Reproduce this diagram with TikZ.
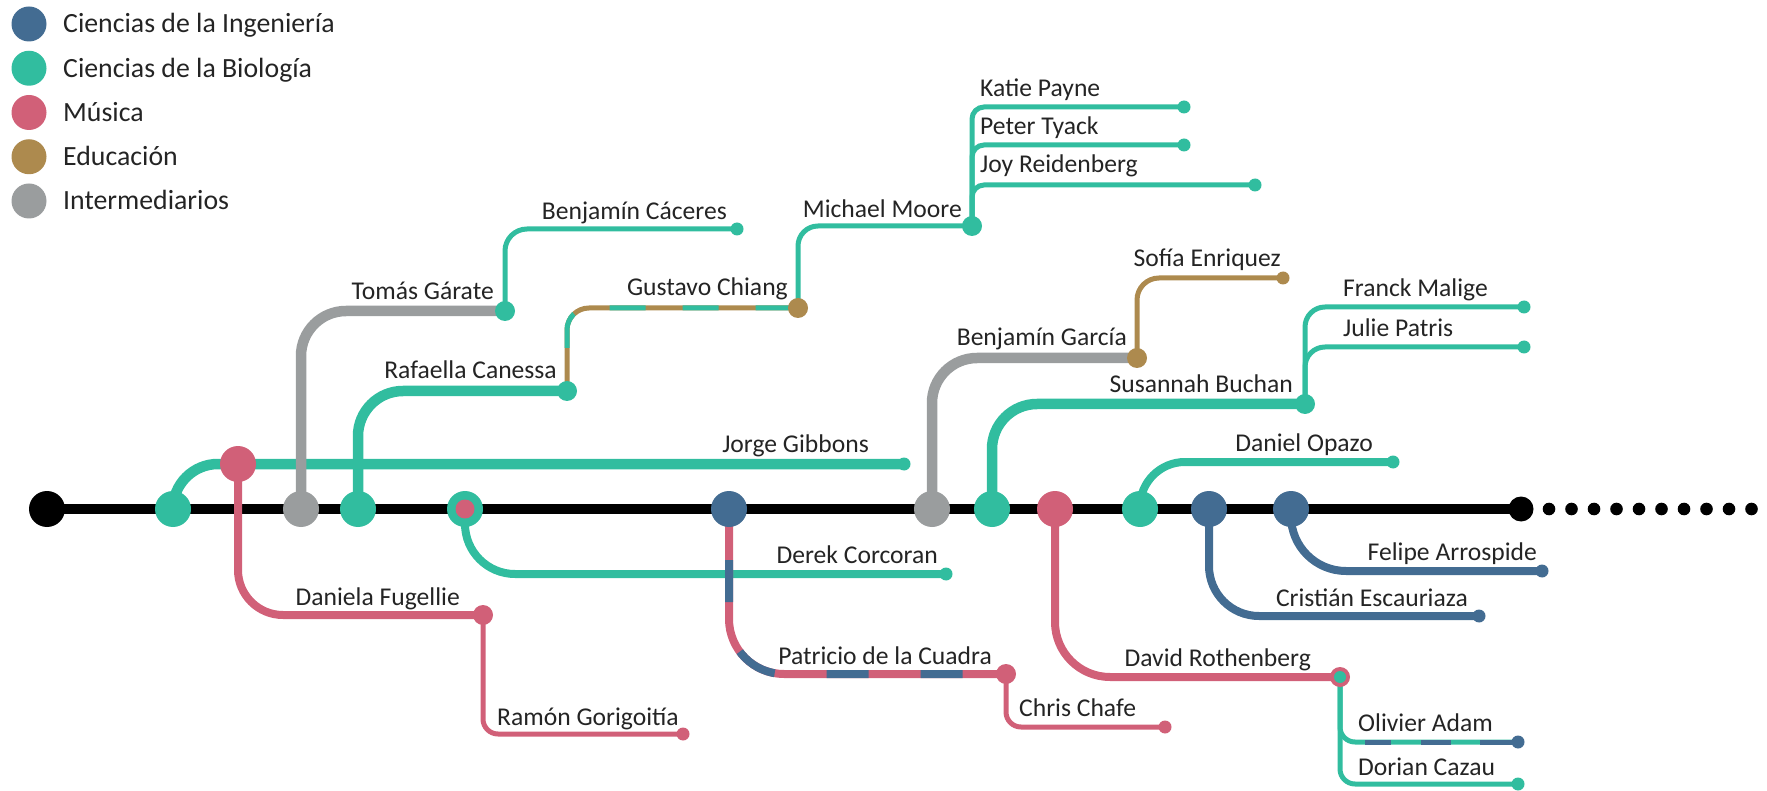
\documentclass[tikz,border=0pt]{standalone}
\usepackage{fontspec}
\setmainfont{Carlito}
\usepackage{tikz}
\usetikzlibrary{positioning}

\definecolor{ingBlue}{HTML}{436C92}
\definecolor{bioTeal}{HTML}{31BD9F}
\definecolor{musPink}{HTML}{D16078}
\definecolor{eduGold}{HTML}{AD8A4E}
\definecolor{midGrey}{HTML}{9A9D9E}
\definecolor{ink}{HTML}{242424}

\pgfdeclarelayer{lines}
\pgfsetlayers{lines,main}

\tikzset{
  station/.style={circle, inner sep=0pt, minimum size=36pt},
  hub/.style={circle, inner sep=0pt, minimum size=20pt},
  enddot/.style={circle, inner sep=0pt, minimum size=13pt},
  trunk/.style={line width=10.5pt},
  branch/.style={line width=8pt},
  twig/.style={line width=5pt},
  lbl/.style={font=\fontsize{25.6}{30}\selectfont, text=ink, inner sep=0pt},
  keytext/.style={font=\fontsize{27.8}{33}\selectfont, text=ink, inner sep=0pt, anchor=base west}
}

\begin{document}
\begin{tikzpicture}[x=1pt,y=-1pt]
\useasboundingbox (0,0) rectangle (1767,791);

% legend
\foreach \c/\t [count=\i] in {ingBlue/Ciencias de la Ingeniería, bioTeal/Ciencias de la Biología, musPink/Música, eduGold/Educación, midGrey/Intermediarios} {
  \node[station, minimum size=35pt, fill=\c] (key\i) at (29,{24+44.25*(\i-1)}) {};
  \node[keytext] (keylbl\i) at (63,{33+44.25*(\i-1)}) {\t};
}

% main line stations
\node[station, fill=black] (start) at (47,509) {};
\node[station, minimum size=25pt, fill=black] (stop) at (1521,509) {};
\node[station, fill=bioTeal] (s1) at (173,509) {};
\node[station, fill=midGrey] (s2) at (301,509) {};
\node[station, fill=bioTeal] (s3) at (358,509) {};
\node[station, fill=bioTeal] (s4) at (465,509) {};
\node[circle, inner sep=0pt, minimum size=19pt, fill=musPink] (s4in) at (s4) {};
\node[station, fill=ingBlue] (s5) at (729,509) {};
\node[station, fill=midGrey] (s6) at (932,509) {};
\node[station, fill=bioTeal] (s7) at (992,509) {};
\node[station, fill=musPink] (s8) at (1055,509) {};
\node[station, fill=bioTeal] (s9) at (1140,509) {};
\node[station, fill=ingBlue] (s10) at (1209,509) {};
\node[station, fill=ingBlue] (s11) at (1291,509) {};
\node[station, fill=musPink] (s1m) at (238,464) {};

% hubs
\node[hub, fill=bioTeal] (garate) at (505,311) {};
\node[hub, fill=bioTeal] (canessa) at (567,391) {};
\node[hub, fill=eduGold] (chiang) at (798,308) {};
\node[hub, fill=bioTeal] (moore) at (972,226) {};
\node[hub, fill=eduGold] (garcia) at (1137,358) {};
\node[hub, fill=bioTeal] (buchan) at (1305,404) {};
\node[hub, fill=musPink] (fugellie) at (483,615) {};
\node[hub, fill=musPink] (cuadra) at (1006,674) {};
\node[hub, fill=musPink] (rothenberg) at (1340,677) {};
\node[circle, inner sep=0pt, minimum size=12pt, fill=bioTeal] (rothenbergIn) at (rothenberg) {};

% end points
\node[enddot, fill=bioTeal] (gibbons) at (904,464) {};
\node[enddot, fill=bioTeal] (caceres) at (737,229) {};
\node[enddot, fill=bioTeal] (payne) at (1184,107) {};
\node[enddot, fill=bioTeal] (tyack) at (1184,145) {};
\node[enddot, fill=bioTeal] (reidenberg) at (1255,185) {};
\node[enddot, fill=eduGold] (enriquez) at (1283,278) {};
\node[enddot, fill=bioTeal] (malige) at (1524,307) {};
\node[enddot, fill=bioTeal] (patris) at (1524,347) {};
\node[enddot, fill=bioTeal] (opazo) at (1393,462) {};
\node[enddot, fill=bioTeal] (corcoran) at (946,574) {};
\node[enddot, fill=musPink] (gorigoitia) at (683,734) {};
\node[enddot, fill=musPink] (chafe) at (1165,727) {};
\node[enddot, fill=ingBlue] (adam) at (1518,742) {};
\node[enddot, fill=bioTeal] (cazau) at (1518,784) {};
\node[enddot, fill=ingBlue] (escauriaza) at (1479,616) {};
\node[enddot, fill=ingBlue] (arrospide) at (1542,571) {};

\begin{pgfonlayer}{lines}
\draw[trunk, draw=black] (start.center) -- (stop.center);
\foreach \k in {0,...,9}
  \fill (1549+22.5*\k,509) circle (6.3pt);

\draw[trunk, draw=bioTeal, rounded corners=45pt] (s1.center) |- (gibbons.center);
\draw[trunk, draw=midGrey, rounded corners=45pt] (s2.center) |- (garate.center);
\draw[twig, draw=bioTeal, rounded corners=22pt] (garate.center) |- (caceres.center);
\draw[trunk, draw=bioTeal, rounded corners=45pt] (s3.center) |- (canessa.center);
\draw[twig, draw=eduGold, rounded corners=22pt] (canessa.center) |- (chiang.center);
\draw[twig, draw=bioTeal, rounded corners=22pt, dash pattern=on 36pt off 37pt, dash phase=30pt] (canessa.center) |- (chiang.center);
\draw[twig, draw=bioTeal, rounded corners=20pt] (chiang.center) |- (moore.center);
\draw[twig, draw=bioTeal, rounded corners=12pt] (moore.center) |- (payne.center);
\draw[twig, draw=bioTeal, rounded corners=12pt] (moore.center) |- (tyack.center);
\draw[twig, draw=bioTeal, rounded corners=12pt] (moore.center) |- (reidenberg.center);

\draw[trunk, draw=midGrey, rounded corners=45pt] (s6.center) |- (garcia.center);
\draw[twig, draw=eduGold, rounded corners=22pt] (garcia.center) |- (enriquez.center);
\draw[trunk, draw=bioTeal, rounded corners=45pt] (s7.center) |- (buchan.center);
\draw[twig, draw=bioTeal, rounded corners=20pt] (buchan.center) |- (malige.center);
\draw[twig, draw=bioTeal, rounded corners=20pt] (buchan.center) |- (patris.center);
\draw[branch, draw=bioTeal, rounded corners=45pt] (s9.center) |- (opazo.center);

\draw[branch, draw=musPink, rounded corners=45pt] (s1m.center) |- (fugellie.center);
\draw[twig, draw=musPink, rounded corners=15pt] (fugellie.center) |- (gorigoitia.center);
\draw[branch, draw=bioTeal, rounded corners=50pt] (s4.center) |- (corcoran.center);
\draw[branch, draw=musPink, rounded corners=55pt] (s5.center) |- (cuadra.center);
\draw[branch, draw=ingBlue, rounded corners=55pt, dash pattern=on 42pt off 52pt, dash phase=43pt] (s5.center) |- (cuadra.center);
\draw[twig, draw=musPink, rounded corners=15pt] (cuadra.center) |- (chafe.center);
\draw[branch, draw=musPink, rounded corners=55pt] (s8.center) |- (rothenberg.center);
\draw[twig, draw=bioTeal, rounded corners=15pt] (rothenberg.center) |- (adam.center);
\draw[twig, draw=ingBlue, dash pattern=on 38pt off 29pt on 30pt off 30pt on 26pt off 200pt] (adam.center) -- (rothenberg.center |- adam.center);
\draw[twig, draw=bioTeal, rounded corners=15pt] (rothenberg.center) |- (cazau.center);
\draw[branch, draw=ingBlue, rounded corners=50pt] (s10.center) |- (escauriaza.center);
\draw[branch, draw=ingBlue, rounded corners=55pt] (s11.center) |- (arrospide.center);
\end{pgfonlayer}

% names
\node[lbl, anchor=base east] (tGibbons) at (869,452) {Jorge Gibbons};
\node[lbl, anchor=base east] (tGarate) at (494,300) {Tomás Gárate};
\node[lbl, anchor=base east] (tCaceres) at (727,220) {Benjamín Cáceres};
\node[lbl, anchor=base east] (tCanessa) at (557,379) {Rafaella Canessa};
\node[lbl, anchor=base east] (tChiang) at (788,296) {Gustavo Chiang};
\node[lbl, anchor=base east] (tMoore) at (962,218) {Michael Moore};
\node[lbl, anchor=base west] (tPayne) at (980,97) {Katie Payne};
\node[lbl, anchor=base west] (tTyack) at (980,135) {Peter Tyack};
\node[lbl, anchor=base west] (tReidenberg) at (980,173) {Joy Reidenberg};
\node[lbl, anchor=base east] (tEnriquez) at (1281,267) {Sofía Enriquez};
\node[lbl, anchor=base east] (tGarcia) at (1127,346) {Benjamín García};
\node[lbl, anchor=base east] (tBuchan) at (1293,393) {Susannah Buchan};
\node[lbl, anchor=base west] (tMalige) at (1343,297) {Franck Malige};
\node[lbl, anchor=base west] (tPatris) at (1343,337) {Julie Patris};
\node[lbl, anchor=base east] (tOpazo) at (1373,451) {Daniel Opazo};
\node[lbl, anchor=base east] (tCorcoran) at (938,563) {Derek Corcoran};
\node[lbl, anchor=base east] (tFugellie) at (460,605) {Daniela Fugellie};
\node[lbl, anchor=base west] (tGorigoitia) at (497,725) {Ramón Gorigoitía};
\node[lbl, anchor=base east] (tCuadra) at (992,664) {Patricio de la Cuadra};
\node[lbl, anchor=base west] (tChafe) at (1019,716) {Chris Chafe};
\node[lbl, anchor=base east] (tRothenberg) at (1311,666) {David Rothenberg};
\node[lbl, anchor=base east] (tArrospide) at (1537,560) {Felipe Arrospide};
\node[lbl, anchor=base east] (tEscauriaza) at (1468,606) {Cristián Escauriaza};
\node[lbl, anchor=base west] (tAdam) at (1358,731) {Olivier Adam};
\node[lbl, anchor=base west] (tCazau) at (1358,775) {Dorian Cazau};
\end{tikzpicture}
\end{document}
